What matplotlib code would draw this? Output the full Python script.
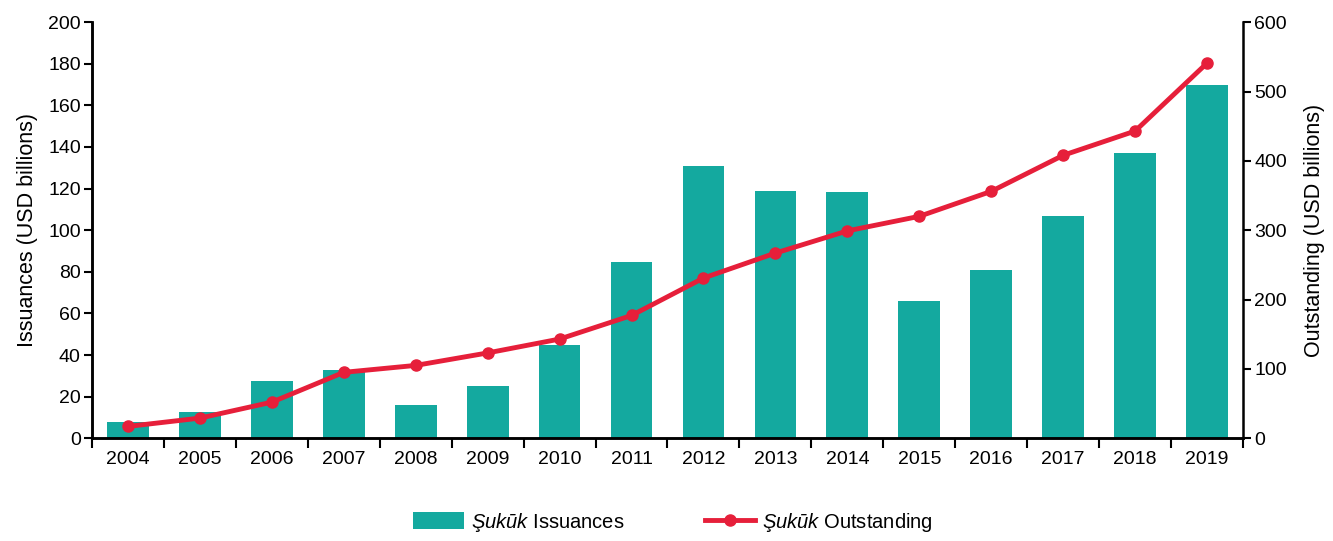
import matplotlib
matplotlib.use("Agg")
import matplotlib.pyplot as plt
import numpy as np

years = ["2004", "2005", "2006", "2007", "2008", "2009", "2010", "2011",
         "2012", "2013", "2014", "2015", "2016", "2017", "2018", "2019"]
issuances = [7.7, 12.5, 27.4, 33, 15.9, 25, 44.7, 84.6,
             130.8, 119, 118.3, 66, 81, 107, 137, 170]
outstanding = [17, 29, 52, 95, 105, 123, 143, 177,
               231, 267, 299, 320, 356, 408, 443, 541]

plt.rcParams["font.family"] = ["Liberation Sans", "DejaVu Sans"]
plt.rcParams["mathtext.fontset"] = "custom"
plt.rcParams["mathtext.it"] = "Liberation Sans:italic"
plt.rcParams["mathtext.rm"] = "Liberation Sans"

bar_color = "#14a99f"
line_color = "#e61f3a"

fig = plt.figure(figsize=(13.33, 5.41), dpi=100)
ax = fig.add_axes([0.069, 0.19, 0.8635, 0.769])
ax2 = ax.twinx()

x = np.arange(len(years))
bars = ax.bar(x, issuances, width=0.58, color=bar_color, zorder=2,
              label=r"$\mathit{Şukūk}$ Issuances")
line, = ax2.plot(x, outstanding, color=line_color, lw=3.5, marker="o",
                 markersize=8, label=r"$\mathit{Şukūk}$ Outstanding")

ax.set_xlim(-0.5, len(years) - 0.5)
ax.set_ylim(0, 200)
ax2.set_ylim(0, 600)
ax.set_yticks(range(0, 201, 20))
ax2.set_yticks(range(0, 601, 100))

ax.set_xticks(x)
ax.set_xticklabels(years)
ax.set_xticks(np.arange(-0.5, len(years), 1), minor=True)
ax.tick_params(axis="x", which="major", length=0, labelsize=14, pad=9)
ax.tick_params(axis="x", which="minor", length=7, width=1.5, direction="out")
ax.tick_params(axis="y", labelsize=14, length=6, width=1.5, pad=2)
ax2.tick_params(axis="y", labelsize=14, length=6, width=1.5, pad=2)

for a in (ax, ax2):
    a.spines["top"].set_visible(False)
    for s in ("left", "right", "bottom"):
        a.spines[s].set_linewidth(1.8)
ax.spines["right"].set_visible(False)

ax.set_ylabel("Issuances (USD billions)", fontsize=15.5, labelpad=7)
ax2.set_ylabel("Outstanding (USD billions)", fontsize=15.5, labelpad=12)

fig.legend(handles=[bars, line], loc="lower center", ncol=2, frameon=False,
           fontsize=14.5, bbox_to_anchor=(0.505, -0.02), handlelength=2.5,
           handleheight=0.9, handletextpad=0.35, columnspacing=4.0)

fig.savefig("out.png", dpi=100)
